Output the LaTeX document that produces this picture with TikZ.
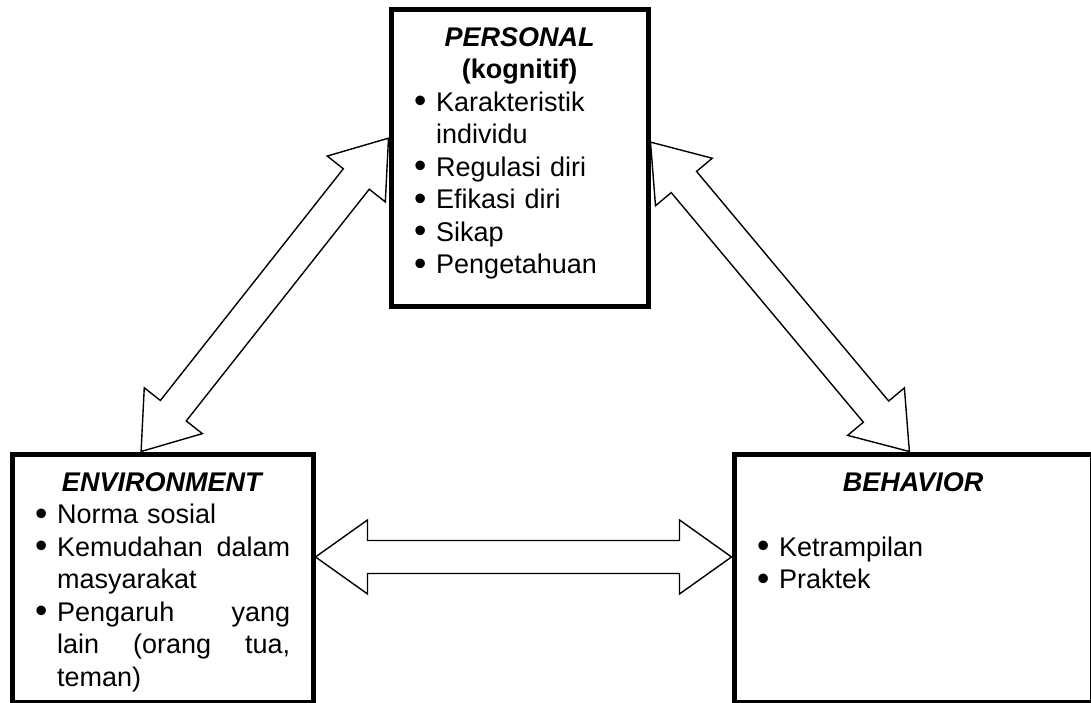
\documentclass[tikz,border=0pt]{standalone}
\usepackage{fontspec}
\setmainfont{Liberation Sans}
\usepackage{graphicx}
\usepackage{tikz}
\usetikzlibrary{calc}

\newcommand{\arrhead}{52pt}
\newcommand{\arrwide}{37pt}
\newcommand{\arrshaft}{16.5pt}
\newcommand{\blockarrow}[2]{%
  \draw[bigarrow] (#1)
    -- ($(#1)!\arrhead!(#2)!\arrwide!90:(#2)$)
    -- ($(#1)!\arrhead!(#2)!\arrshaft!90:(#2)$)
    -- ($(#2)!\arrhead!(#1)!\arrshaft!-90:(#1)$)
    -- ($(#2)!\arrhead!(#1)!\arrwide!-90:(#1)$)
    -- (#2)
    -- ($(#2)!\arrhead!(#1)!\arrwide!90:(#1)$)
    -- ($(#2)!\arrhead!(#1)!\arrshaft!90:(#1)$)
    -- ($(#1)!\arrhead!(#2)!\arrshaft!-90:(#2)$)
    -- ($(#1)!\arrhead!(#2)!\arrwide!-90:(#2)$)
    -- cycle;}
\newcommand{\itm}[1]{\makebox[22pt][l]{\raisebox{-1.5pt}{\scalebox{1.3}{\textbullet}}}#1}
\newcommand{\cnt}[1]{\hspace*{22pt}#1}
\newcommand{\hd}[1]{\makebox[\linewidth][c]{\textbf{\textit{#1}}}}

\begin{document}
\begin{tikzpicture}[x=1pt,y=-1pt]
\tikzset{box/.style={draw,line width=5pt,outer sep=2.5pt,inner sep=0pt}}
\tikzset{boxtext/.style={anchor=base west,inner sep=0pt,font=\fontsize{27}{32.5}\selectfont}}
\tikzset{bigarrow/.style={draw,fill=white,line width=1.4pt,line join=miter}}

\useasboundingbox (0,0) rectangle (1091,702);

\node[box,minimum width=257pt,minimum height=297pt] (pers) at (519.5,157.5) {};
\node[box,minimum width=301pt,minimum height=248.5pt] (env) at (162.5,578.25) {};
\node[box,minimum width=358pt,minimum height=248.5pt] (beh) at (913,578.25) {};

\node[boxtext,text width=211pt] (perstxt) at ($(pers.north west)+(25.5,39.5)$) {%
\hd{PERSONAL}\\
\makebox[\linewidth][c]{\textbf{(kognitif)}}\\
\itm{Karakteristik}\\
\cnt{individu}\\
\itm{Regulasi diri}\\
\itm{Efikasi diri}\\
\itm{Sikap}\\
\itm{Pengetahuan}};

\node[boxtext,text width=255pt] (envtxt) at ($(env.north west)+(25.5,39.5)$) {%
\hd{ENVIRONMENT}\\
\itm{Norma sosial}\\
\itm{Kemudahan\hfill dalam}\\
\cnt{masyarakat}\\
\itm{Pengaruh\hfill yang}\\
\cnt{lain\hfill (orang\hfill tua,}\\
\cnt{teman)}};

\node[boxtext,text width=312pt] (behtxt) at ($(beh.north west)+(25.5,39.5)$) {%
\hd{BEHAVIOR}\\[32.5pt]
\itm{Ketrampilan}\\
\itm{Praktek}};

\coordinate (pl) at ($(pers.north west)!0.436!(pers.south west)$);
\coordinate (pr) at ($(pers.north east)!0.449!(pers.south east)$);
\coordinate (et) at ($(env.north west)!0.43!(env.north east)$);
\coordinate (er) at ($(env.north east)!0.416!(env.south east)$);
\coordinate (bt) at ($(beh.north west)!0.49!(beh.north east)$);
\coordinate (bl) at ($(beh.north west)!0.416!(beh.south west)$);

\blockarrow{et}{pl}
\blockarrow{pr}{bt}
\blockarrow{er}{bl}

\end{tikzpicture}
\end{document}
